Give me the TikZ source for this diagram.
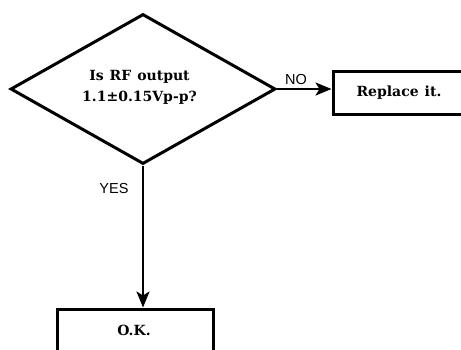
\documentclass[tikz,border=0pt]{standalone}
\usepackage{fontspec}
\newfontfamily\labelfont{Liberation Sans}
\newfontfamily\boxfont{DejaVu Serif}
\newcommand\widewords{\spaceskip=6pt plus 1pt minus 1pt\relax}
\usetikzlibrary{shapes.geometric,arrows.meta}
\tikzset{
  shapeline/.style={draw=black, line width=3pt, fill=white},
  boxtext/.style={font=\boxfont\bfseries\fontsize{14}{21}\selectfont\widewords, align=center},
  flowarrow/.style={draw=black, line width=2.4pt, -{Stealth[length=16pt,width=13pt,inset=4pt]}},
  lbl/.style={font=\labelfont\fontsize{14.5}{16}\selectfont, inner sep=0pt}
}
\begin{document}
\begin{tikzpicture}[x=1pt,y=-1pt]
\useasboundingbox (0,0) rectangle (461,349);
\clip (0,0) rectangle (461,349);
\node[shapeline, diamond, minimum width=265pt, minimum height=150pt, inner sep=0pt] (d) at (143,89) {};
\node[boxtext] (dt) at (139.5,87.5) {Is RF output\\1.1±0.15Vp-p?};
\node[shapeline, rectangle, minimum width=132pt, minimum height=43pt, inner sep=0pt] (r) at (399,93) {};
\node[boxtext] at (r.center) {Replace it.};
\node[shapeline, rectangle, minimum width=156pt, minimum height=46pt, inner sep=0pt] (ok) at (135,332) {};
\node[boxtext] at (134,330) {O.K.};
\draw[flowarrow] (d.east) -- (r.west |- d.east);
\draw[flowarrow] (d.south) -- (d.south |- ok.north);
\node[lbl] (no) at (296,80) {NO};
\node[lbl] (yes) at (114,189) {YES};
\end{tikzpicture}
\end{document}
